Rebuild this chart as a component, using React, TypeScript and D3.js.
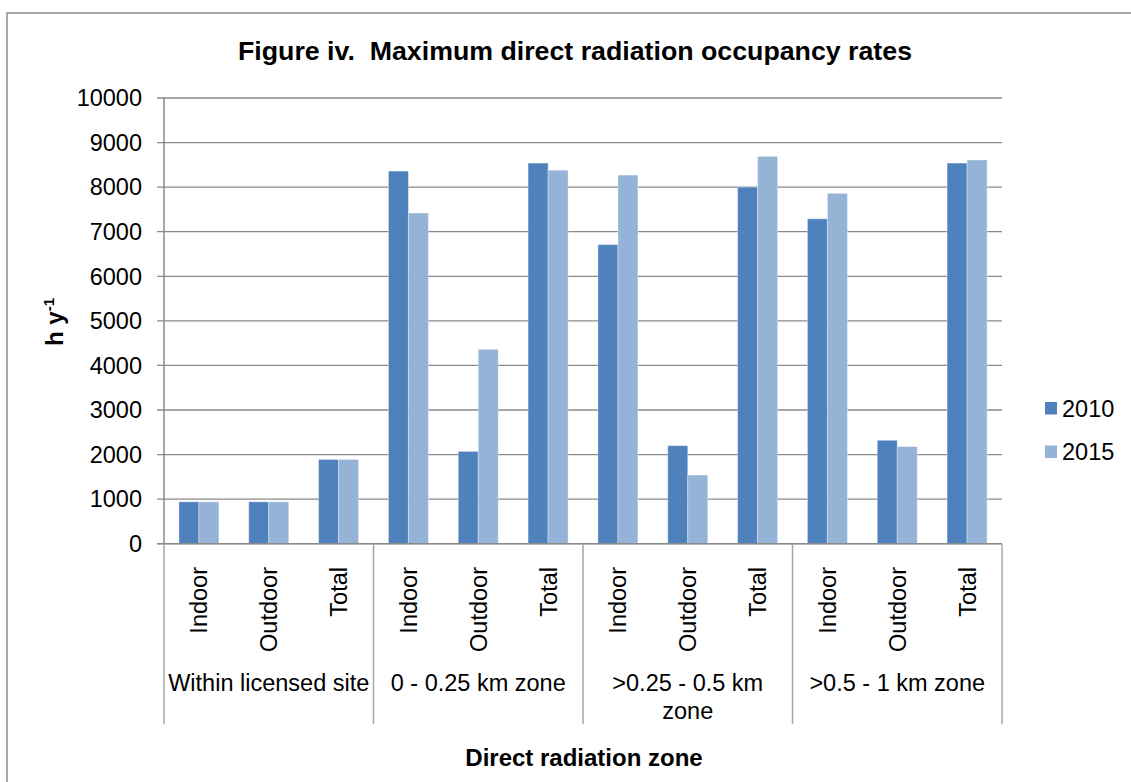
import React from "react";
import * as d3 from "d3";

const groupLabels: string[][] = [
  ["Within licensed site"],
  ["0 - 0.25 km zone"],
  [">0.25 - 0.5 km", "zone"],
  [">0.5 - 1 km zone"],
];
const subLabels = ["Indoor", "Outdoor", "Total"];
const seriesNames = ["2010", "2015"];
const values2010 = [940, 940, 1890, 8360, 2070, 8540, 6710, 2200, 8000, 7290, 2320, 8540];
const values2015 = [940, 940, 1890, 7420, 4360, 8380, 8270, 1540, 8690, 7860, 2180, 8610];
const yTicks = [0, 1000, 2000, 3000, 4000, 5000, 6000, 7000, 8000, 9000, 10000];

const colors = ["#4F81BD", "#95B3D7"];
const FONT = "'Liberation Sans', Arial, Helvetica, sans-serif";
const FS = 23.5;

export default function App() {
  const W = 1131;
  const H = 782;
  const left = 164;
  const right = 1002;
  const top = 98;
  const bottom = 543.7;
  const catBottom = 724;

  const cats = groupLabels.flatMap((g, gi) => subLabels.map((s) => `${gi}|${s}`));
  const x = d3.scaleBand<string>().domain(cats).range([left, right]).padding(0);
  const x1 = d3
    .scaleBand<string>()
    .domain(seriesNames)
    .range([0, x.bandwidth()])
    .paddingInner(0)
    .paddingOuter(0.746);
  const y = d3.scaleLinear().domain([0, 10000]).range([bottom, top]);
  const series = [values2010, values2015];

  const groupW = x.bandwidth() * subLabels.length;

  return (
    <div style={{ position: "absolute", left: 0, top: 0 }}>
      <svg width={W} height={H} style={{ display: "block", fontFamily: FONT }}>
        <rect x={0} y={0} width={W} height={H} fill="#fff" />
        {/* outer frame */}
        <rect x={7} y={13} width={W + 20} height={H + 20} fill="none" stroke="#8c8c8c" strokeWidth={1.5} />

        {/* title */}
        <text
          x={575}
          y={60}
          textAnchor="middle"
          fontSize={25.5}
          fontWeight="bold"
          textLength={674}
          lengthAdjust="spacingAndGlyphs"
          fill="#000"
        >
          Figure iv.{"\u00A0\u00A0"}Maximum direct radiation occupancy rates
        </text>

        {/* gridlines & y ticks */}
        {yTicks.map((t) => (
          <g key={t}>
            <line x1={157} x2={right} y1={y(t)} y2={y(t)} stroke="#8a8a8a" strokeWidth={1.3} />
            <text x={142} y={y(t)} dy="0.35em" textAnchor="end" fontSize={FS} fill="#000">
              {t}
            </text>
          </g>
        ))}

        {/* bars */}
        {series.map((vals, si) =>
          vals.map((v, i) => (
            <rect
              key={`${si}-${i}`}
              x={(x(cats[i]) as number) + (x1(seriesNames[si]) as number)}
              y={y(v)}
              width={x1.bandwidth()}
              height={bottom - y(v)}
              fill={colors[si]}
              stroke="rgba(255,255,255,0.35)"
              strokeWidth={1}
            />
          ))
        )}

        {/* axes */}
        <line x1={left} x2={left} y1={top} y2={bottom} stroke="#8a8a8a" strokeWidth={1.5} />
        <line x1={157} x2={right} y1={bottom} y2={bottom} stroke="#8a8a8a" strokeWidth={1.5} />
        {d3.range(groupLabels.length + 1).map((gi) => (
          <line
            key={gi}
            x1={left + gi * groupW}
            x2={left + gi * groupW}
            y1={bottom}
            y2={catBottom}
            stroke="#a6a6a6"
            strokeWidth={1.5}
          />
        ))}

        {/* sub labels */}
        {cats.map((c, i) => {
          const cx = (x(c) as number) + x.bandwidth() / 2;
          return (
            <text
              key={c}
              transform={`translate(${cx + 8.5},567) rotate(-90)`}
              textAnchor="end"
              fontSize={FS}
              fill="#000"
            >
              {subLabels[i % subLabels.length]}
            </text>
          );
        })}

        {/* group labels */}
        {groupLabels.map((lines, gi) => (
          <text key={gi} x={left + gi * groupW + groupW / 2} y={691} textAnchor="middle" fontSize={FS} fill="#000">
            {lines.map((l, li) => (
              <tspan key={li} x={left + gi * groupW + groupW / 2} dy={li === 0 ? 0 : 28}>
                {l}
              </tspan>
            ))}
          </text>
        ))}

        {/* axis titles */}
        <text x={584} y={766} textAnchor="middle" fontSize={24} fontWeight="bold" fill="#000">
          Direct radiation zone
        </text>
        <text transform="translate(63,322) rotate(-90)" textAnchor="middle" fontSize={24} fontWeight="bold" fill="#000">
          h y
          <tspan fontSize={15} dy={-9}>
            -1
          </tspan>
        </text>

        {/* legend */}
        {seriesNames.map((s, i) => (
          <g key={s} transform={`translate(1045,${402 + i * 43.5})`}>
            <rect x={0} y={0} width={12} height={12.5} fill={colors[i]} />
            <text x={17} y={14.5} fontSize={FS} fill="#000">
              {s}
            </text>
          </g>
        ))}
      </svg>
    </div>
  );
}
